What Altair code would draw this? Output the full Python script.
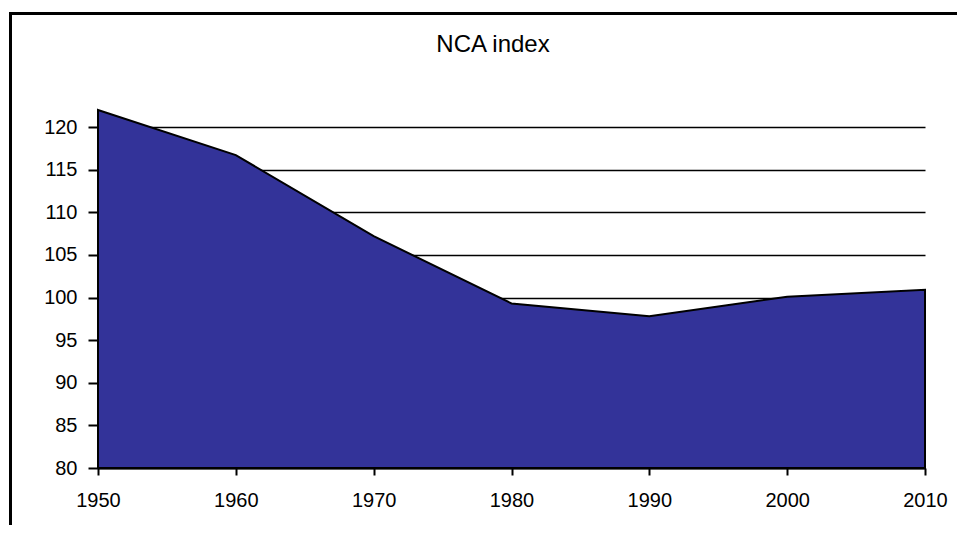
import altair as alt
import pandas as pd

years = [1950, 1960, 1970, 1980, 1990, 2000, 2010]
nca_index = [122.0, 116.7, 107.2, 99.3, 97.8, 100.1, 100.9]
y_ticks = [80, 85, 90, 95, 100, 105, 110, 115, 120]
x_ticks = [1950, 1960, 1970, 1980, 1990, 2000, 2010]
title_text = ["NCA index"]

df = pd.DataFrame({"year": years, "value": nca_index})
df_title = pd.DataFrame({"t": title_text})

FONT = "Liberation Sans"

area = alt.Chart(df).mark_area(
    color="#333399", stroke="black", strokeWidth=2, opacity=1, interpolate="linear"
).encode(
    x=alt.X("year:Q", scale=alt.Scale(domain=[1950, 2010], nice=False, zero=False),
            axis=alt.Axis(values=x_ticks, format="d", title=None, grid=False,
                          domainColor="black", domainWidth=2, tickColor="black",
                          tickWidth=2, tickSize=7, labelPadding=15, labelFlush=False,
                          labelFontSize=20, labelFont=FONT, labelColor="black")),
    y=alt.Y("value:Q", scale=alt.Scale(domain=[80, 120], nice=False, zero=False),
            axis=alt.Axis(values=y_ticks, title=None, grid=True, gridColor="black",
                          gridOpacity=1, gridWidth=1.5, domainColor="black",
                          domainWidth=2, tickColor="black", tickWidth=2, tickSize=10,
                          labelPadding=11, labelFontSize=20, labelFont=FONT,
                          labelColor="black")),
    y2=alt.datum(80),
)

title = alt.Chart(df_title).mark_text(
    font=FONT, fontSize=24, color="black", align="center", baseline="alphabetic"
).encode(
    text="t:N", x=alt.value(395), y=alt.value(-75)
)

frame = alt.Chart(df_title).mark_rect(
    fill=None, stroke="black", strokeWidth=3
).encode(
    x=alt.value(-87.5), x2=alt.value(2000), y=alt.value(-113.5), y2=alt.value(1000)
)

chart = alt.layer(area, title, frame).properties(
    width=827,
    height=341,
    autosize=alt.AutoSizeParams(type="none"),
    padding={"left": 90, "top": 119, "right": 32, "bottom": 57},
).configure_view(stroke=None)

chart.save("out.html", embed_options={"renderer": "svg", "actions": False})
